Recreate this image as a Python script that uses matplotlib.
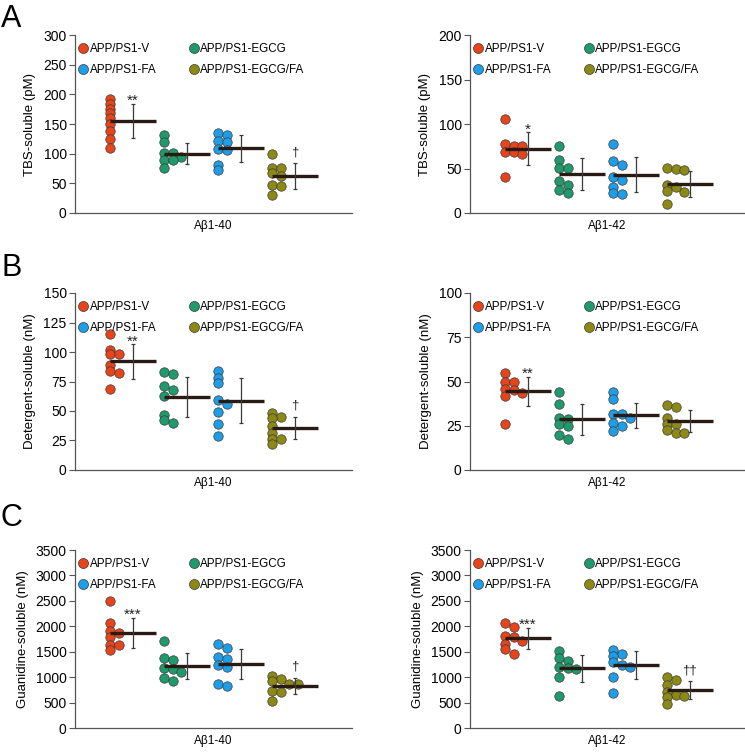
'''
Abeta levels in APP/PS1 mice: TBS, detergent and guanidine fractions, dot plots with mean and SD
'''

import matplotlib
matplotlib.use("Agg")
import matplotlib.pyplot as plt
from matplotlib.lines import Line2D

plt.rcParams["font.family"] = ["Liberation Sans", "DejaVu Sans"]

groups = ["APP/PS1-V", "APP/PS1-EGCG", "APP/PS1-FA", "APP/PS1-EGCG/FA"]
group_colors = ["#E8441C", "#1E9A6C", "#1E9EE8", "#8C8A14"]

# A: TBS-soluble (pM)
tbs_ab40 = [[192, 184, 176, 168, 160, 150, 138, 125, 110],
            [132, 119, 101, 101, 94, 89, 89, 76],
            [135, 132, 121, 119, 108, 106, 81, 72],
            [99, 76, 76, 67, 62, 48, 45, 31]]
tbs_ab40_mean = [155, 100, 109, 62]
tbs_ab40_sd = [28.5, 18, 22.5, 22]
tbs_ab42 = [[106, 77, 75, 75, 68, 68, 66, 40],
            [75, 60, 51, 51, 36, 32, 26, 23],
            [78, 58, 54, 41, 37, 29, 23, 21],
            [51, 50, 48, 32, 29, 25, 24, 10]]
tbs_ab42_mean = [72, 44, 43, 33]
tbs_ab42_sd = [18.5, 18, 19.5, 14.5]

# B: Detergent-soluble (nM)
det_ab40 = [[115, 102, 98, 98, 89, 84, 82, 69],
            [83, 81, 71, 68, 63, 47, 42, 40],
            [84, 78, 74, 59, 56, 49, 39, 29],
            [48, 45, 44, 37, 31, 26, 26, 22]]
det_ab40_mean = [92, 62, 58.6, 35.7]
det_ab40_sd = [14.5, 16.8, 19, 9.5]
det_ab42 = [[55, 50, 50, 46, 45, 43.4, 42, 26],
            [44, 37.5, 29.4, 29, 25.8, 24.9, 19.6, 17.7],
            [43.8, 40, 31.5, 31.5, 29.6, 26.6, 24.9, 21.9],
            [37, 35.7, 29.6, 25.8, 25.8, 22.8, 21.1, 21.1]]
det_ab42_mean = [44.5, 28.7, 31, 27.7]
det_ab42_sd = [8.2, 8.8, 7.1, 6.2]

# C: Guanidine-soluble (nM)
gua_ab40 = [[2500, 2059, 1914, 1862, 1783, 1632, 1632, 1533],
            [1717, 1368, 1336, 1184, 1151, 1105, 974, 921],
            [1651, 1566, 1401, 1349, 1237, 1204, 875, 822],
            [1026, 954, 921, 875, 862, 730, 711, 533]]
gua_ab40_mean = [1862, 1217, 1257, 829]
gua_ab40_sd = [296, 253, 302, 155]
gua_ab42 = [[2059, 1993, 1809, 1783, 1717, 1645, 1546, 1454],
            [1520, 1368, 1322, 1191, 1171, 1151, 1007, 625],
            [1533, 1454, 1421, 1289, 1237, 1204, 1007, 691],
            [1007, 941, 855, 711, 645, 632, 612, 480]]
gua_ab42_mean = [1763, 1171, 1237, 743]
gua_ab42_sd = [204, 270, 270, 181]

sig_ab40 = ["**", "", "", "\u2020"]
sig_tbs_ab42 = ["*", "", "", ""]
sig_det_ab42 = ["**", "", "", ""]
sig_gua_ab40 = ["***", "", "", "\u2020"]
sig_gua_ab42 = ["***", "", "", "\u2020\u2020"]

panels = [
    ("A", 0, tbs_ab40, tbs_ab40_mean, tbs_ab40_sd, sig_ab40, "TBS-soluble (pM)", "A\u03b21-40", 300, 50),
    (None, 1, tbs_ab42, tbs_ab42_mean, tbs_ab42_sd, sig_tbs_ab42, "TBS-soluble (pM)", "A\u03b21-42", 200, 50),
    ("B", 0, det_ab40, det_ab40_mean, det_ab40_sd, sig_ab40, "Detergent-soluble (nM)", "A\u03b21-40", 150, 25),
    (None, 1, det_ab42, det_ab42_mean, det_ab42_sd, sig_det_ab42, "Detergent-soluble (nM)", "A\u03b21-42", 100, 25),
    ("C", 0, gua_ab40, gua_ab40_mean, gua_ab40_sd, sig_gua_ab40, "Guanidine-soluble (nM)", "A\u03b21-40", 3500, 500),
    (None, 1, gua_ab42, gua_ab42_mean, gua_ab42_sd, sig_gua_ab42, "Guanidine-soluble (nM)", "A\u03b21-42", 3500, 500),
]

W, H = 745, 754
fig = plt.figure(figsize=(W / 100, H / 100), dpi=100)

row_px = [(35, 213), (293, 470), (550, 728)]   # top, bottom of each row (pixels)
letter_top = [4, 253, 503]
col_px = [(75, 352), (470, 745)]
DOT_PX = 8.7
COL_STEP = 0.16


def swarm_columns(vals, units_per_px):
    '''greedy beeswarm: push a dot one column right while it overlaps one already placed'''
    placed, cols = [], [0] * len(vals)
    for i in sorted(range(len(vals)), key=lambda j: -vals[j]):
        k = 0
        while any(pk == k and abs(py - vals[i]) / units_per_px < DOT_PX * 0.54 for pk, py in placed):
            k += 1
        placed.append((k, vals[i]))
        cols[i] = k
    return cols


for r, (letter, c, data, means, sds, sigs, ylabel, xlabel, ymax, ystep) in enumerate(panels):
    row = r // 2
    top, bot = row_px[row]
    left, right = col_px[c]
    ax = fig.add_axes([left / W, 1 - bot / H, (right - left) / W, (bot - top) / H])
    ax.set_ylim(0, ymax)
    ax.set_xlim(-0.65, (right - left) / 54 - 0.65)
    units_per_px = ymax / (bot - top)

    for g, vals in enumerate(data):
        cols = swarm_columns(vals, units_per_px)
        xs = [g + k * COL_STEP for k in cols]
        ax.scatter(xs, vals, s=46, color=group_colors[g], edgecolors="#3a3a3a",
                   linewidths=0.5, zorder=3)
        ax.plot([g, g + 0.85], [means[g], means[g]], color="#2a1a14", lw=2.4,
                solid_capstyle="butt", zorder=4)
        ax.errorbar(g + 0.42, means[g], yerr=sds[g], fmt="none", ecolor="#3a3a3a",
                    elinewidth=0.9, capsize=1.6, capthick=0.9, zorder=5)
        if sigs[g]:
            star = "*" in sigs[g]
            gap_px = -4 if star else 5   # asterisks sit high in their text box
            ax.text(g + 0.42, means[g] + sds[g] + units_per_px * gap_px, sigs[g],
                    ha="center", va="bottom", fontsize=11 if star else 9.5,
                    color="#222222", zorder=6)

    ax.spines["top"].set_visible(False)
    ax.spines["right"].set_visible(False)
    for sp in ("left", "bottom"):
        ax.spines[sp].set_color("#555555")
        ax.spines[sp].set_linewidth(0.9)
    ax.set_yticks(range(0, ymax + 1, ystep))
    ax.tick_params(axis="y", direction="out", length=4, width=0.8, color="#555555",
                   labelsize=10, pad=2)
    ax.set_xticks([])
    ax.set_xlabel(xlabel, fontsize=8.5, labelpad=5)
    ax.set_ylabel(ylabel, fontsize=9.5, labelpad=5)

    handles = [Line2D([], [], marker="o", ls="none", markersize=7.2, markerfacecolor=group_colors[i],
                      markeredgecolor="#3a3a3a", markeredgewidth=0.5) for i in (0, 2, 1, 3)]
    labels = [groups[i] for i in (0, 2, 1, 3)]
    ax.legend(handles, labels, ncol=2, loc="upper left", bbox_to_anchor=(0.0, 0.968),
              frameon=False, fontsize=8.4, handlelength=1.0, handletextpad=0.05,
              columnspacing=2.7, labelspacing=0.75, borderaxespad=0.0, borderpad=0.2)

    if letter:
        fig.text(1 / W, 1 - letter_top[row] / H, letter, fontsize=22, ha="left", va="top")

fig.savefig("out.png", dpi=100)
